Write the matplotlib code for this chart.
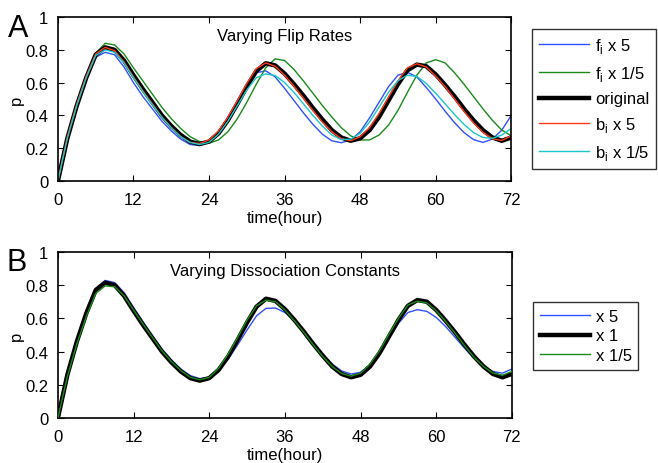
import numpy as np
import matplotlib
matplotlib.use("Agg")
import matplotlib.pyplot as plt

plt.rcParams['font.family'] = ['Liberation Sans', 'DejaVu Sans']
plt.rcParams['mathtext.fontset'] = 'custom'
plt.rcParams['mathtext.rm'] = 'Liberation Sans'

# time points (hours), every 1.5 h
t = np.arange(0, 72.01, 1.5)

# panel A: varying flip rates
p_original = [0, 0.26, 0.46, 0.63, 0.77, 0.815, 0.80, 0.735, 0.645, 0.56, 0.48, 0.40,
              0.335, 0.28, 0.24, 0.225, 0.24, 0.29, 0.37, 0.47, 0.575, 0.67, 0.718, 0.705,
              0.655, 0.59, 0.52, 0.445, 0.375, 0.31, 0.265, 0.245, 0.26, 0.31, 0.39, 0.49,
              0.59, 0.675, 0.71, 0.70, 0.65, 0.585, 0.515, 0.44, 0.37, 0.31, 0.265, 0.245, 0.265]
p_f5 = [0, 0.26, 0.46, 0.625, 0.755, 0.785, 0.77, 0.695, 0.60, 0.515, 0.44, 0.365,
        0.305, 0.255, 0.222, 0.216, 0.24, 0.30, 0.39, 0.49, 0.59, 0.66, 0.672, 0.635,
        0.565, 0.49, 0.415, 0.345, 0.285, 0.245, 0.233, 0.25, 0.30, 0.385, 0.48, 0.575,
        0.645, 0.663, 0.635, 0.57, 0.50, 0.425, 0.355, 0.295, 0.252, 0.235, 0.255, 0.31, 0.40]
p_f15 = [0, 0.26, 0.46, 0.635, 0.78, 0.84, 0.83, 0.775, 0.69, 0.61, 0.53, 0.45,
         0.38, 0.32, 0.27, 0.24, 0.23, 0.25, 0.30, 0.38, 0.48, 0.59, 0.69, 0.745,
         0.735, 0.68, 0.61, 0.535, 0.46, 0.39, 0.325, 0.275, 0.25, 0.25, 0.28, 0.34,
         0.43, 0.54, 0.645, 0.72, 0.74, 0.72, 0.66, 0.59, 0.515, 0.44, 0.37, 0.31, 0.275]
p_b5 = [0, 0.27, 0.47, 0.64, 0.775, 0.815, 0.795, 0.725, 0.635, 0.55, 0.47, 0.39,
        0.325, 0.27, 0.235, 0.228, 0.25, 0.305, 0.39, 0.49, 0.595, 0.685, 0.72, 0.70,
        0.645, 0.578, 0.505, 0.43, 0.36, 0.30, 0.258, 0.245, 0.27, 0.325, 0.41, 0.51,
        0.61, 0.69, 0.715, 0.695, 0.64, 0.575, 0.50, 0.425, 0.355, 0.297, 0.257, 0.247, 0.275]
p_b15 = [0, 0.26, 0.46, 0.63, 0.765, 0.80, 0.785, 0.72, 0.63, 0.545, 0.465, 0.39,
         0.325, 0.27, 0.235, 0.222, 0.235, 0.285, 0.365, 0.46, 0.555, 0.63, 0.653, 0.643,
         0.60, 0.54, 0.47, 0.40, 0.335, 0.28, 0.252, 0.255, 0.29, 0.36, 0.45, 0.54,
         0.612, 0.645, 0.638, 0.595, 0.535, 0.47, 0.405, 0.345, 0.295, 0.265, 0.26, 0.28, 0.32]

# panel B: varying dissociation constants
p_k5 = [0, 0.26, 0.46, 0.635, 0.78, 0.828, 0.815, 0.755, 0.665, 0.58, 0.495, 0.415,
        0.35, 0.295, 0.255, 0.237, 0.245, 0.285, 0.355, 0.44, 0.53, 0.615, 0.66, 0.662,
        0.635, 0.585, 0.52, 0.45, 0.385, 0.325, 0.283, 0.265, 0.275, 0.32, 0.395, 0.48,
        0.57, 0.635, 0.652, 0.642, 0.605, 0.55, 0.485, 0.42, 0.36, 0.31, 0.28, 0.27, 0.295]
p_k1 = p_original
p_k15 = [0, 0.25, 0.445, 0.61, 0.75, 0.795, 0.79, 0.735, 0.65, 0.565, 0.485, 0.405,
         0.34, 0.285, 0.245, 0.23, 0.245, 0.30, 0.385, 0.485, 0.59, 0.675, 0.71, 0.70,
         0.65, 0.585, 0.515, 0.44, 0.37, 0.31, 0.268, 0.252, 0.27, 0.325, 0.405, 0.505,
         0.60, 0.68, 0.703, 0.693, 0.645, 0.58, 0.51, 0.435, 0.365, 0.31, 0.27, 0.257, 0.28]

blue = '#2f52ff'
green = '#1a8a1a'
red = '#ff3a1a'
cyan = '#1cc6c6'

fig = plt.figure(figsize=(6.58, 4.64), dpi=100)
axA = fig.add_axes([0.088, 0.608, 0.689, 0.353])
axB = fig.add_axes([0.088, 0.097, 0.690, 0.358])

axA.plot(t, p_f5, color=blue, lw=1.0, label='f$_\\mathregular{i}$ x 5')
axA.plot(t, p_f15, color=green, lw=1.0, label='f$_\\mathregular{i}$ x 1/5')
axA.plot(t, p_original, color='black', lw=3.2, label='original')
axA.plot(t, p_b5, color=red, lw=1.0, label='b$_\\mathregular{i}$ x 5')
axA.plot(t, p_b15, color=cyan, lw=1.0, label='b$_\\mathregular{i}$ x 1/5')

axB.plot(t, p_k5, color=blue, lw=1.0, label='x 5', zorder=1)
axB.plot(t, p_k1, color='black', lw=3.2, label='x 1', zorder=2)
axB.plot(t, p_k15, color=green, lw=1.0, label='x 1/5', zorder=3)

for ax, title in [(axA, 'Varying Flip Rates'), (axB, 'Varying Dissociation Constants')]:
    ax.set_xlim(0, 72)
    ax.set_ylim(0, 1)
    ax.set_xticks([0, 12, 24, 36, 48, 60, 72])
    ax.set_yticks([0, 0.2, 0.4, 0.6, 0.8, 1])
    ax.set_yticklabels(['0', '0.2', '0.4', '0.6', '0.8', '1'])
    ax.tick_params(direction='in', top=True, right=True, length=4, width=0.8,
                   labelsize=12)
    ax.tick_params(axis='x', pad=8)
    ax.tick_params(axis='y', pad=7)
    for s in ax.spines.values():
        s.set_linewidth(1.2)
    ax.set_xlabel('time(hour)', fontsize=12, labelpad=2)
    ax.set_ylabel('p', fontsize=12, labelpad=1)
    ax.text(0.5, 0.89, title, transform=ax.transAxes, ha='center', va='center',
            fontsize=12)

fig.text(0.012, 0.97, 'A', fontsize=22, va='top')
fig.text(0.010, 0.465, 'B', fontsize=22, va='top')

legA = axA.legend(loc='upper left', bbox_to_anchor=(532 / 658, 1 - 30 / 464),
                  bbox_transform=fig.transFigure, fontsize=12, frameon=True,
                  fancybox=False, edgecolor='black', handlelength=3.0,
                  handletextpad=0.35, labelspacing=0.52, borderpad=0.42,
                  borderaxespad=0)
legA.get_frame().set_linewidth(1.0)

legB = axB.legend(loc='upper left', bbox_to_anchor=(533 / 658, 1 - 303 / 464),
                  bbox_transform=fig.transFigure, fontsize=12, frameon=True,
                  fancybox=False, edgecolor='black', handlelength=3.0,
                  handletextpad=0.35, labelspacing=0.28, borderpad=0.4,
                  borderaxespad=0)
legB.get_frame().set_linewidth(1.0)

plt.savefig('out.png', dpi=100)
